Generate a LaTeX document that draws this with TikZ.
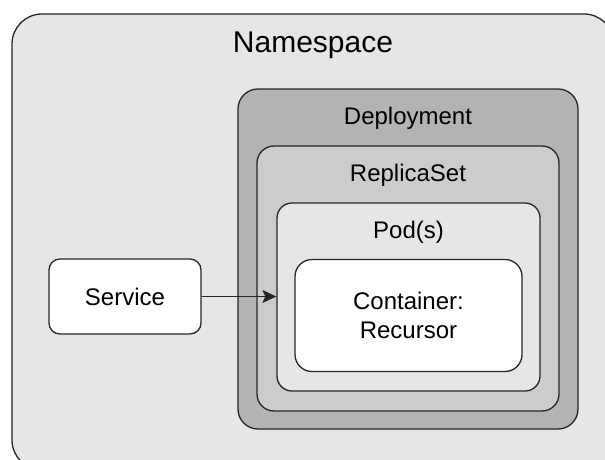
\documentclass[tikz,border=0pt]{standalone}
\usepackage{fontspec}
\setmainfont{Liberation Sans}
\usetikzlibrary{positioning,arrows.meta}
\definecolor{nsgray}{HTML}{E6E6E6}
\definecolor{deploygray}{HTML}{B3B3B3}
\definecolor{rsgray}{HTML}{CCCCCC}
\definecolor{podgray}{HTML}{E6E6E6}

\begin{document}
\begin{tikzpicture}[x=1pt, y=-1pt,
    box/.style={draw=black!85, line width=1.3pt, rectangle, inner sep=0pt},
    title/.style={inner sep=0pt, font=\fontsize{24}{29}\selectfont}]
    \clip (0,0) rectangle (605,459);
    % namespace runs off the right and bottom edges
    \node[box, fill=nsgray, rounded corners=30pt, minimum width=602pt, minimum height=456pt] (ns) at (313,242) {};
    \node[title, font=\fontsize{30}{36}\selectfont, below=18pt of ns.north] (nstitle) {Namespace};
    \node[box, fill=deploygray, rounded corners=20pt, minimum width=340pt, minimum height=340pt] (deploy) at (408,259) {};
    \node[title, below=19pt of deploy.north] (deploytitle) {Deployment};
    \node[box, fill=rsgray, rounded corners=17pt, minimum width=302pt, minimum height=265pt] (rs) at (408,278.5) {};
    \node[title, below=19pt of rs.north] (rstitle) {ReplicaSet};
    \node[box, fill=podgray, rounded corners=15pt, minimum width=263pt, minimum height=188pt] (pod) at (408.5,297) {};
    \node[title, below=19pt of pod.north] (podtitle) {Pod(s)};
    \node[box, fill=white, rounded corners=17pt, minimum width=227pt, minimum height=112pt, align=center,
        font=\fontsize{24}{28.5}\selectfont] (container) at (408.5,315.5) {Container:\\Recursor};
    \node[box, fill=white, rounded corners=11pt, minimum width=152pt, minimum height=75pt,
        font=\fontsize{24}{29}\selectfont] (service) at (125,296.5) {Service};
    \draw[-{Stealth[length=14pt, width=13pt, inset=3pt]}, line width=1.5pt, black!85] (service.east) -- (service.east -| pod.west);
\end{tikzpicture}
\end{document}
